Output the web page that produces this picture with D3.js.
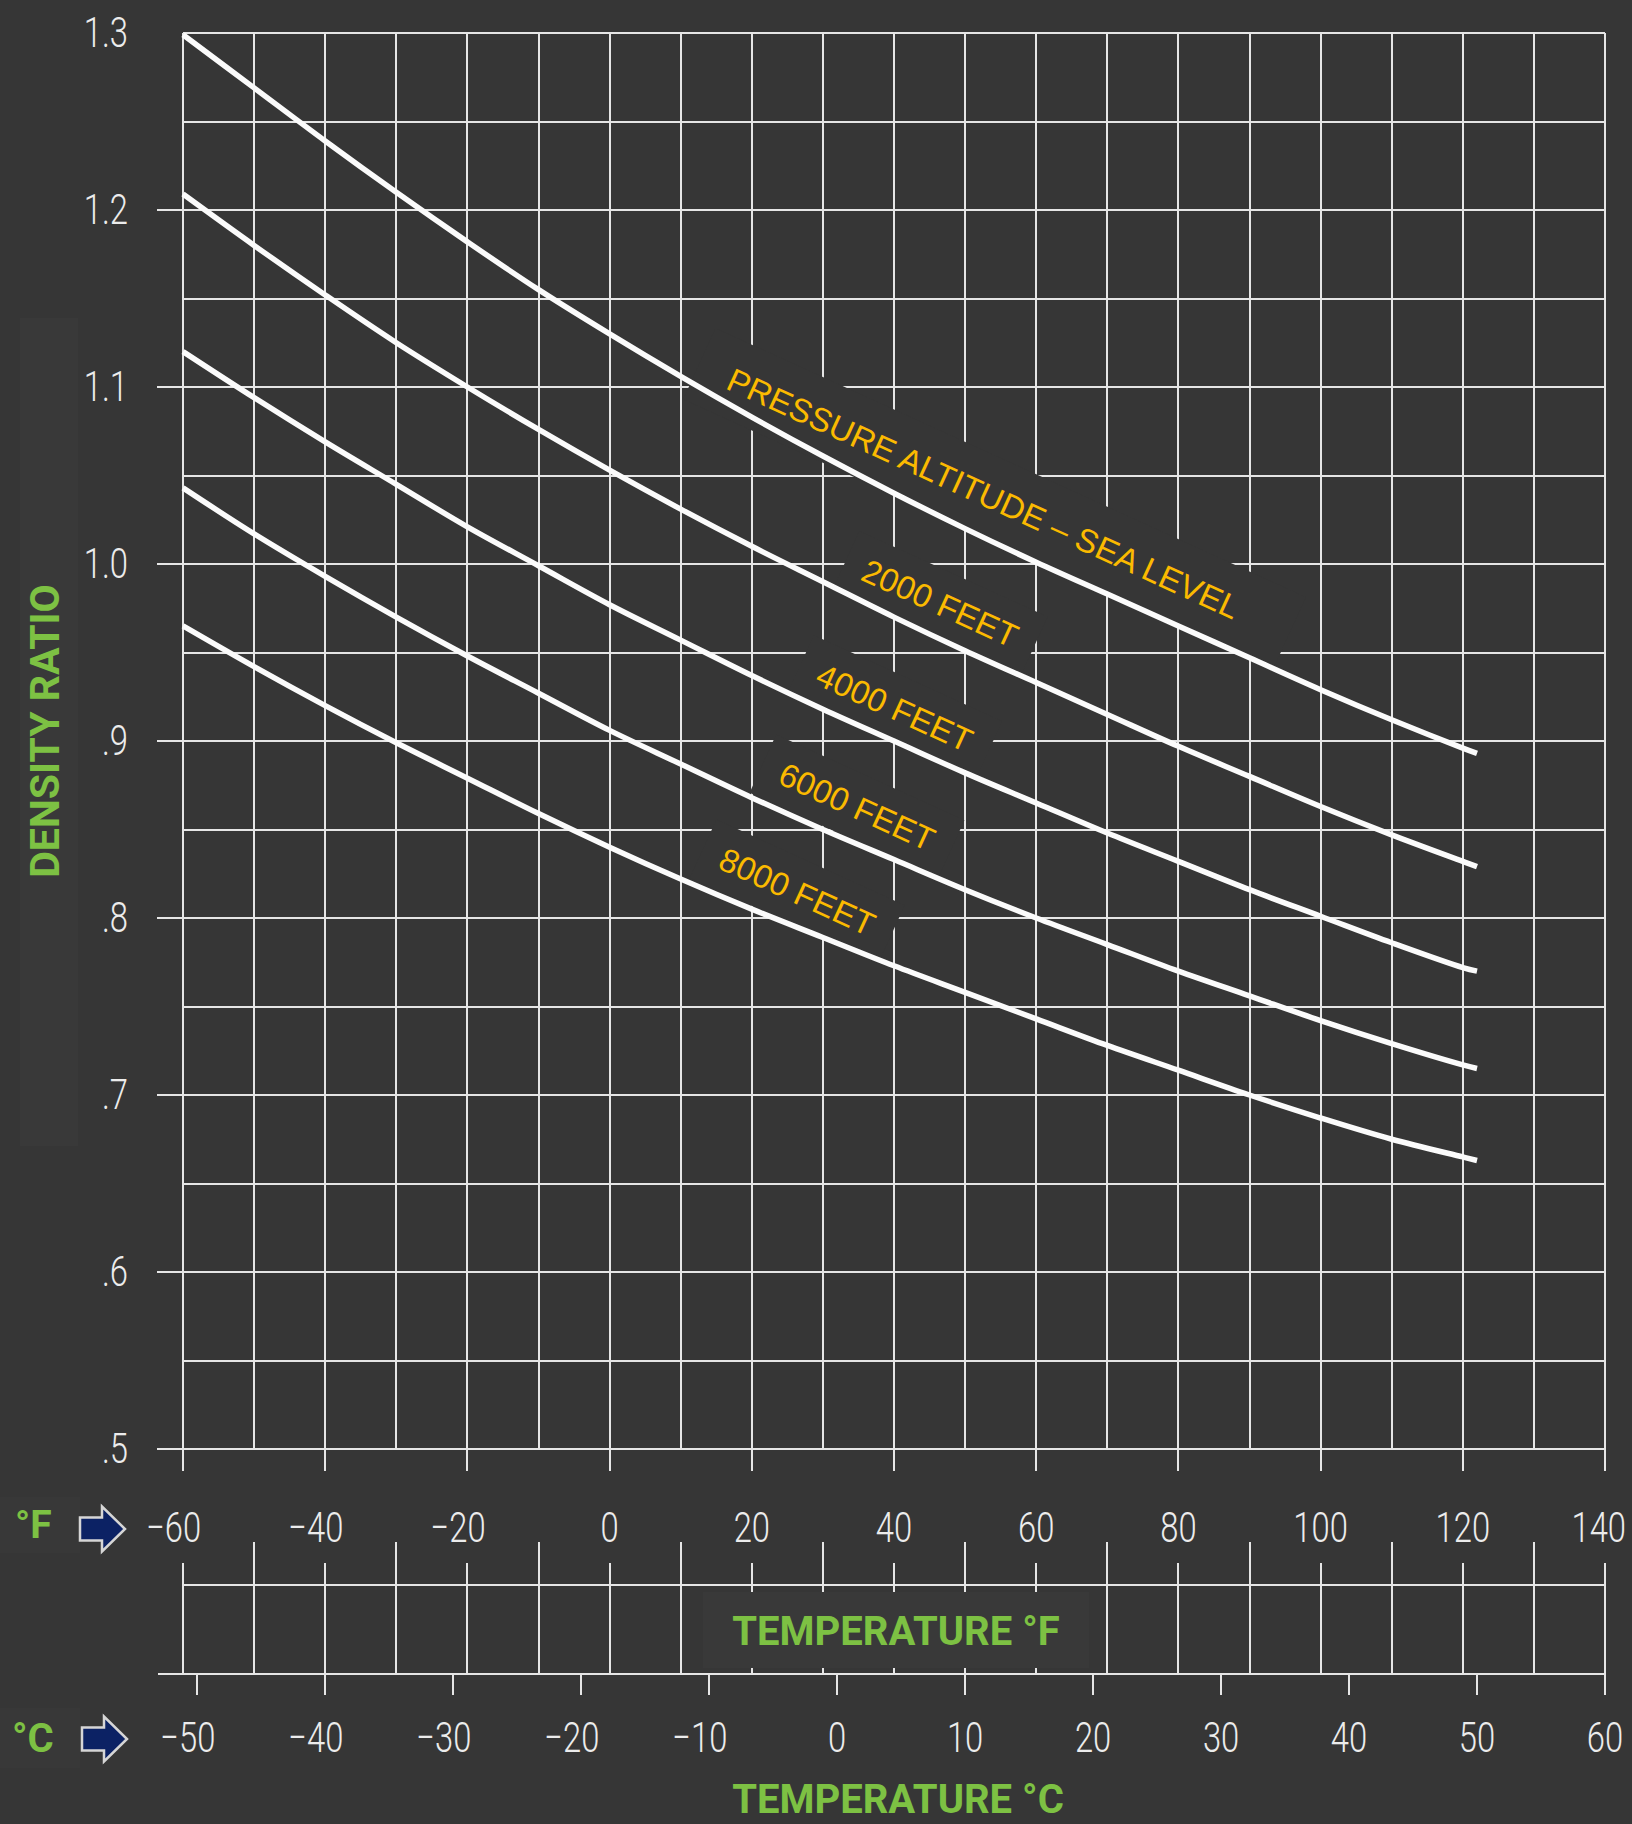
<!DOCTYPE html>
<html>
<head>
<meta charset="utf-8">
<script src="https://cdn.jsdelivr.net/npm/d3@7"></script>
<style>
html,body{margin:0;padding:0;background:#363636;}
svg{display:block;}
</style>
</head>
<body>
<svg id="chart" width="1632" height="1824"></svg>
<script>
// ---------------- DATA ----------------
const tempF = [-60,-50,-40,-30,-20,-10,0,10,20,30,40,50,60,70,80,90,100,110,120,122];
const seaLevel = [1.299,1.269,1.239,1.210,1.182,1.155,1.130,1.106,1.083,1.061,1.040,1.020,1.001,0.983,0.965,0.947,0.929,0.912,0.896,0.893];
const alt2000  = [1.209,1.180,1.152,1.125,1.100,1.076,1.053,1.031,1.010,0.990,0.970,0.951,0.933,0.915,0.897,0.880,0.863,0.847,0.832,0.829];
const alt4000  = [1.120,1.094,1.069,1.045,1.021,0.999,0.977,0.957,0.937,0.918,0.900,0.882,0.865,0.848,0.832,0.816,0.801,0.786,0.772,0.770];
const alt6000  = [1.043,1.017,0.993,0.970,0.948,0.927,0.906,0.887,0.868,0.850,0.833,0.816,0.800,0.785,0.770,0.756,0.742,0.729,0.717,0.715];
const alt8000  = [0.965,0.942,0.920,0.899,0.879,0.859,0.840,0.822,0.805,0.789,0.773,0.758,0.743,0.728,0.714,0.700,0.687,0.675,0.665,0.663];
const seriesValues = [seaLevel, alt2000, alt4000, alt6000, alt8000];
const seriesLabels = ["PRESSURE ALTITUDE \u2013 SEA LEVEL","2000 FEET","4000 FEET","6000 FEET","8000 FEET"];
const labelTempF = [52.6, 46.5, 40.1, 34.8, 26.4];
const labelRatio = [1.040, 0.978, 0.919, 0.863, 0.815];

const yTickValues = [1.3,1.2,1.1,1.0,0.9,0.8,0.7,0.6,0.5];
const yTickLabels = ["1.3","1.2","1.1","1.0",".9",".8",".7",".6",".5"];
const fTicks = [-60,-40,-20,0,20,40,60,80,100,120,140];
const cTicks = [-50,-40,-30,-20,-10,0,10,20,30,40,50,60];

// ---------------- SETUP ----------------
const W = 1632, H = 1824;
const BG = '#363636', GRID = '#e6e6e6', GREEN = '#7dc143', GOLD = '#fbba00', TICKTXT = '#ececec';
const x = d3.scaleLinear().domain([-60,140]).range([183,1605]);
const y = d3.scaleLinear().domain([0.5,1.3]).range([1449,33]);
const cToF = c => c*9/5 + 32;

const svg = d3.select('#chart');
svg.append('rect').attr('width',W).attr('height',H).attr('fill',BG);

// subtle panels behind side labels
svg.append('rect').attr('x',20).attr('y',318).attr('width',58).attr('height',828).attr('fill','#393939');
svg.append('rect').attr('x',0).attr('y',1497).attr('width',80).attr('height',56).attr('fill','#383838');
svg.append('rect').attr('x',0).attr('y',1708).attr('width',80).attr('height',60).attr('fill','#383838');

function measure(str, size, weight, family){
  const t = svg.append('text').attr('font-family',family).attr('font-size',size).attr('font-weight',weight).text(str);
  const w = t.node().getComputedTextLength();
  t.remove();
  return w;
}
const TF = 'Roboto, "DejaVu Sans", sans-serif';
const SX = 0.78;
function condText(g, X, Y, str, anchor, size){
  return g.append('text')
    .attr('transform', `translate(${X},${Y}) scale(${SX},1)`)
    .attr('text-anchor', anchor)
    .attr('font-family', TF).attr('font-weight',300).attr('font-size',size)
    .attr('fill', TICKTXT).text(str);
}

// ---------------- GRID ----------------
const grid = svg.append('g').attr('stroke',GRID).attr('stroke-width',2).attr('shape-rendering','crispEdges');
const hVals = d3.range(0,17).map(i => +(0.5 + i*0.05).toFixed(2));
const vVals = d3.range(-60,141,10);
grid.selectAll('line.h').data(hVals).join('line').attr('class','h')
  .attr('x1', x(-60)).attr('x2', x(140)).attr('y1', d=>y(d)).attr('y2', d=>y(d));
grid.selectAll('line.v').data(vVals).join('line').attr('class','v')
  .attr('x1', d=>x(d)).attr('x2', d=>x(d)).attr('y1', y(1.3)).attr('y2', y(0.5));
grid.selectAll('line.yt').data(yTickValues.filter(v => v < 1.25)).join('line').attr('class','yt')
  .attr('x1', x(-60)-26).attr('x2', x(-60)).attr('y1', d=>y(d)).attr('y2', d=>y(d));
grid.selectAll('line.xt').data(fTicks).join('line').attr('class','xt')
  .attr('x1', d=>x(d)).attr('x2', d=>x(d)).attr('y1', y(0.5)).attr('y2', y(0.5)+22);

// ---------------- Y LABELS ----------------
const yl = svg.append('g');
yTickValues.forEach((v,i) => condText(yl, 128, y(v)+14, yTickLabels[i], 'end', 42));

// ---------------- LABEL BOXES (hide grid behind labels) ----------------
const LF = '"Liberation Sans", Arial, sans-serif';
const LSIZE = 33;
const ANG = 24.5;
const boxes = svg.append('g');
seriesLabels.forEach((s,i) => {
  const tl = measure(s, LSIZE, 400, LF);
  const big = i === 0;
  const bw = tl + (big ? 90 : 40);
  const bh = big ? 78 : 64;
  const off = big ? 12 : 0;
  boxes.append('rect')
    .attr('transform', `translate(${x(labelTempF[i])},${y(labelRatio[i])}) rotate(${ANG})`)
    .attr('x', -bw/2 + off).attr('y', -bh/2).attr('width', bw).attr('height', bh)
    .attr('fill', BG);
});

// ---------------- CURVES ----------------
const line = d3.line().x((d,i)=>x(tempF[i])).y(d=>y(d)).curve(d3.curveCatmullRom.alpha(0.5));
svg.append('g').selectAll('path').data(seriesValues).join('path')
  .attr('d', line).attr('fill','none').attr('stroke','#fbfbfb').attr('stroke-width',5.5).attr('stroke-linecap','butt');

// ---------------- CURVE LABELS ----------------
svg.append('g').selectAll('text').data(seriesLabels).join('text')
  .attr('transform', (d,i) => `translate(${x(labelTempF[i])},${y(labelRatio[i])}) rotate(${ANG})`)
  .attr('text-anchor','middle').attr('dy','0.36em')
  .attr('font-family', LF).attr('font-size', LSIZE).attr('fill', GOLD)
  .text(d=>d);

// ---------------- °F AXIS LABELS ----------------
const xl = svg.append('g');
fTicks.forEach(v => {
  const digits = String(Math.abs(v));
  const w = measure(digits, 42, 300, TF) * SX;
  const str = v < 0 ? '\u2212' + digits : digits;
  let cx = x(v) + w/2;
  if (cx > W - 6) cx = W - 6;
  condText(xl, cx, 1542, str, 'end', 42);
});

// ---------------- CONVERSION BAND ----------------
const band = svg.append('g').attr('stroke',GRID).attr('stroke-width',2).attr('shape-rendering','crispEdges');
band.append('line').attr('x1',x(-60)).attr('x2',x(140)).attr('y1',1585).attr('y2',1585);
band.append('line').attr('x1',x(-60)-25).attr('x2',x(140)).attr('y1',1674).attr('y2',1674);
band.selectAll('line.bv').data(vVals).join('line').attr('class','bv')
  .attr('x1', d=>x(d)).attr('x2', d=>x(d))
  .attr('y1', d => (Math.abs(d) % 20 === 10) ? 1542 : 1563).attr('y2', 1674);
band.selectAll('line.ct').data(cTicks).join('line').attr('class','ct')
  .attr('x1', d=>x(cToF(d))).attr('x2', d=>x(cToF(d))).attr('y1',1674).attr('y2',1695);
svg.append('rect').attr('x',703).attr('y',1592).attr('width',386).attr('height',76).attr('fill','#393939');

// °C labels
const cl = svg.append('g');
cTicks.forEach(v => {
  const digits = String(Math.abs(v));
  const w = measure(digits, 42, 300, TF) * SX;
  const str = v < 0 ? '\u2212' + digits : digits;
  let cx = x(cToF(v)) + w/2;
  if (cx > W - 6) cx = W - 6;
  condText(cl, cx, 1752, str, 'end', 42);
});

// ---------------- TITLES ----------------
const GF = 'Roboto, "DejaVu Sans", sans-serif';
svg.append('text').attr('transform','translate(59,731) rotate(-90)').attr('text-anchor','middle')
  .attr('font-family',GF).attr('font-weight',700).attr('font-size',41).attr('fill',GREEN).text('DENSITY RATIO');
svg.append('text').attr('x',896).attr('y',1645).attr('text-anchor','middle')
  .attr('font-family',GF).attr('font-weight',700).attr('font-size',40).attr('fill',GREEN).text('TEMPERATURE \u00B0F');
svg.append('text').attr('x',898).attr('y',1813).attr('text-anchor','middle')
  .attr('font-family',GF).attr('font-weight',700).attr('font-size',40).attr('fill',GREEN).text('TEMPERATURE \u00B0C');
svg.append('text').attr('x',15).attr('y',1538)
  .attr('font-family',GF).attr('font-weight',700).attr('font-size',39).attr('fill',GREEN).text('\u00B0F');
svg.append('text').attr('x',12).attr('y',1752)
  .attr('font-family',GF).attr('font-weight',700).attr('font-size',40).attr('fill',GREEN).text('\u00B0C');

// ---------------- ARROWS ----------------
function arrow(x0, xb, xt, yc, sh, hh){
  const p = d3.path();
  p.moveTo(x0, yc-sh); p.lineTo(xb, yc-sh); p.lineTo(xb, yc-hh); p.lineTo(xt, yc);
  p.lineTo(xb, yc+hh); p.lineTo(xb, yc+sh); p.lineTo(x0, yc+sh); p.closePath();
  svg.append('path').attr('d', p.toString()).attr('fill','#0c2264').attr('stroke','#d6d6d6').attr('stroke-width',2.5).attr('stroke-linejoin','miter');
}
arrow(80, 102, 125, 1529, 11.5, 22.5);
arrow(82, 104, 127, 1739, 11.5, 22.5);
</script>
</body>
</html>
